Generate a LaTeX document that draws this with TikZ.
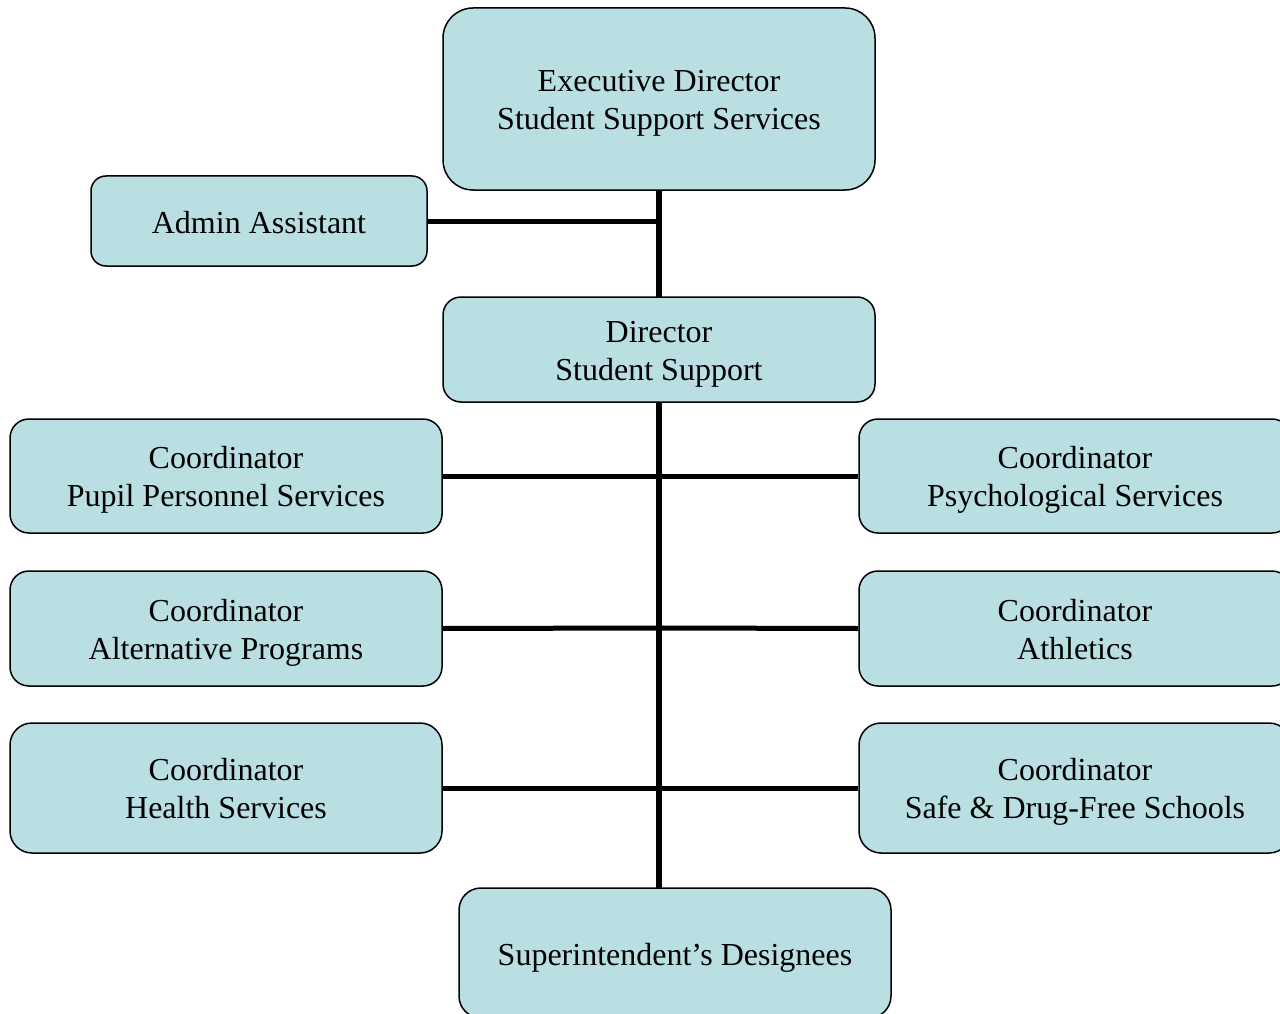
\documentclass[tikz,border=0pt]{standalone}
\usepackage{fontspec}
\setmainfont{Liberation Serif}
\definecolor{boxfill}{RGB}{185,223,226}
% extra height on the first line of a two-line box
\newcommand\lineone{\vrule width 0pt height 33pt\relax}
\begin{document}
\begin{tikzpicture}[x=1pt,y=-1pt,
  orgbox/.style={draw=black, line width=1.5pt, fill=boxfill, align=center,
    inner sep=0pt, font=\fontsize{32}{38}\selectfont,
    execute at begin node={\vrule width 0pt height 34pt\relax},
    execute at end node={\vrule width 0pt height 0pt depth 10pt\relax}},
  link/.style={line width=5pt, line cap=butt},
  trunk/.style={line width=6pt, line cap=butt}]
\useasboundingbox (0,0) rectangle (1280,1014);
\clip (0,0) rectangle (1280,1014);

% connectors first, boxes on top
\coordinate (trunktop) at (659,190);
\coordinate (trunkbot) at (659,888);
\draw[trunk] (trunktop) -- (trunkbot);
\coordinate (ja) at (659,221);
\coordinate (j1) at (659,476);
\coordinate (j2) at (659,628);
\coordinate (j3) at (659,788);

% boxes
\node[orgbox, minimum width=432, minimum height=182, rounded corners=30] (exec) at (659,99)
  {\lineone Executive Director\\Student Support Services};
\node[orgbox, minimum width=336, minimum height=90, rounded corners=15] (admin) at (259,221)
  {Admin Assistant};
\node[orgbox, minimum width=432, minimum height=105, rounded corners=18] (dir) at (659,349.5)
  {\lineone Director\\Student Support};
\node[orgbox, minimum width=432, minimum height=114, rounded corners=19] (pps) at (226,476)
  {\lineone Coordinator\\Pupil Personnel Services};
\node[orgbox, minimum width=432, minimum height=115, rounded corners=19] (alt) at (226,628.5)
  {\lineone Coordinator\\Alternative Programs};
\node[orgbox, minimum width=432, minimum height=130, rounded corners=22] (health) at (226,788)
  {\lineone Coordinator\\Health Services};
\node[orgbox, minimum width=432, minimum height=114, rounded corners=19] (psy) at (1075,476)
  {\lineone Coordinator\\Psychological Services};
\node[orgbox, minimum width=432, minimum height=115, rounded corners=19] (ath) at (1075,628.5)
  {\lineone Coordinator\\Athletics};
\node[orgbox, minimum width=432, minimum height=130, rounded corners=22] (sdfs) at (1075,788)
  {\lineone Coordinator\\Safe \& Drug-Free Schools};
\node[orgbox, minimum width=432, minimum height=130, rounded corners=22] (super) at (675,953)
  {Superintendent’s Designees};

% branches to the trunk
\draw[link] (admin.east) -- (ja);
\draw[link] (pps.east) -- (j1);
\draw[link] (j1) -- (psy.west);
\draw[link] (alt.east) -- (j2);
\draw[link] (j2) -- (ath.west);
\draw[link] (health.east) -- (j3);
\draw[link] (j3) -- (sdfs.west);
\end{tikzpicture}
\end{document}
